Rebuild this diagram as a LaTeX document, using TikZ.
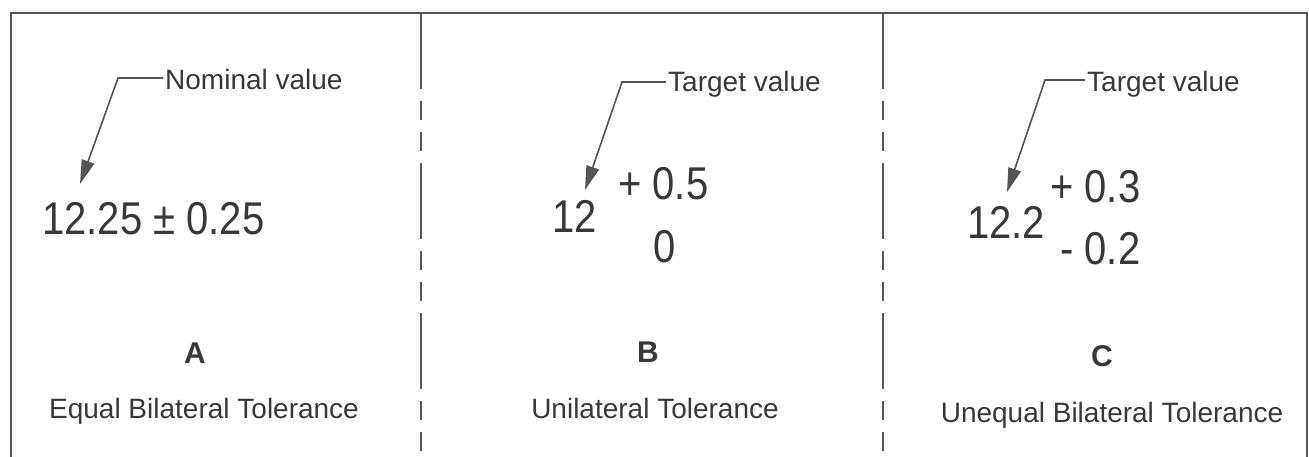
\documentclass[tikz,border=0pt]{standalone}
\usepackage{fontspec}
\setmainfont{Liberation Sans}
\newfontfamily\narrowsans[FakeStretch=0.87]{Liberation Sans}
\usetikzlibrary{arrows.meta}
\definecolor{ink}{HTML}{383838}
\definecolor{rulegray}{HTML}{555555}
\begin{document}
\begin{tikzpicture}[x=1pt,y=-1pt,
  lbl/.style={font=\fontsize{28}{30}\selectfont, text=ink, inner sep=0pt},
  num/.style={font=\narrowsans\fontsize{46}{48}\selectfont, text=ink, inner sep=0pt},
  ttl/.style={font=\fontsize{30}{32}\selectfont\bfseries, text=ink, inner sep=0pt},
  lead/.style={draw=rulegray, line width=1.6pt, -{Triangle[length=24pt,width=13pt]}},
  frame/.style={draw=rulegray, line width=2pt},
  divider/.style={draw=rulegray, line width=1.8pt, dash pattern=on 76pt off 12pt on 19pt off 12pt on 19pt off 12pt}]
\path[use as bounding box] (0,0) rectangle (1309,457);
% frame and dividers
\draw[frame] (11,457) -- (11,13) -- (1307,13) -- (1307,457);
\draw[divider] (421,13) -- (421,457);
\draw[divider] (883,13) -- (883,457);
% Panel A
\node[lbl, anchor=base west] (nom) at (165,90) {Nominal value};
\node[num, anchor=base west] (valA) at (42,235) {12.25 ± 0.25};
\node[ttl, anchor=base] (tA) at (195,363) {A};
\node[lbl, anchor=base] (cA) at (204,418) {Equal Bilateral Tolerance};
\coordinate (kA) at (118,78);
\coordinate (tipA) at (80,184);
\draw[lead] ([shift={(-2,-12)}]nom.base west) -- (kA) -- (tipA);
% Panel B
\node[lbl, anchor=base west] (tgB) at (668,92) {Target value};
\node[num, anchor=base west] (valB) at (552,233) {12};
\node[num, anchor=base west] (upB) at (618,200) {+ 0.5};
\node[num, anchor=base west] (loB) at (653,262) {0};
\node[ttl, anchor=base] (tB) at (648,362) {B};
\node[lbl, anchor=base] (cB) at (655,418) {Unilateral Tolerance};
\coordinate (kB) at (622,82);
\coordinate (tipB) at (585,190);
\draw[lead] ([shift={(-2,-10)}]tgB.base west) -- (kB) -- (tipB);
% Panel C
\node[lbl, anchor=base west] (tgC) at (1087,92) {Target value};
\node[num, anchor=base west] (valC) at (967,238) {12.2};
\node[num, anchor=base west] (upC) at (1050,203) {+ 0.3};
\node[num, anchor=base west] (loC) at (1060,265) {- 0.2};
\node[ttl, anchor=base] (tC) at (1102,366) {C};
\node[lbl, anchor=base] (cC) at (1112,422) {Unequal Bilateral Tolerance};
\coordinate (kC) at (1045,80);
\coordinate (tipC) at (1007,192);
\draw[lead] ([shift={(-2,-12)}]tgC.base west) -- (kC) -- (tipC);
\end{tikzpicture}
\end{document}
